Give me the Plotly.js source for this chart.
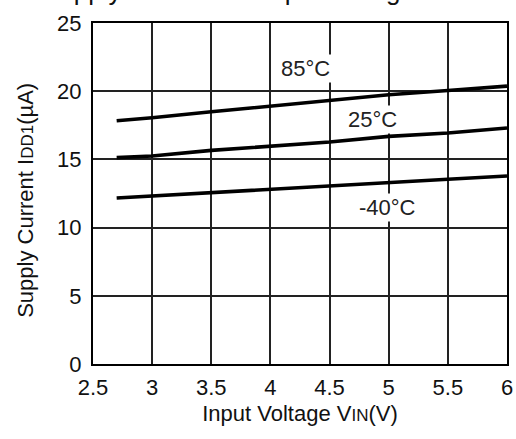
<!DOCTYPE html>
<html>
<head>
<meta charset="utf-8">
<script src="https://cdn.plot.ly/plotly-3.0.1.min.js"></script>
<style>html,body{margin:0;padding:0;background:#fff;}#chart{width:516px;height:439px;}</style>
</head>
<body>
<div id="chart"></div>
<script>
const vin = [2.7, 3.0, 3.5, 4.0, 4.5, 5.0, 5.5, 6.0];
const idd85 = [17.83, 18.05, 18.49, 18.9, 19.32, 19.74, 20.05, 20.37];
const idd25 = [15.13, 15.25, 15.66, 15.98, 16.27, 16.69, 16.93, 17.3];
const iddM40 = [12.17, 12.32, 12.59, 12.83, 13.1, 13.34, 13.54, 13.78];
const seriesNames = ["85°C", "25°C", "-40°C"];
const labelX = [4.3, 4.86, 4.99];
const labelY = [21.7, 17.9, 11.5];
const xTicks = [2.5, 3, 3.5, 4, 4.5, 5, 5.5, 6];
const yTicks = [0, 5, 10, 15, 20, 25];
const chartTitle = "Supply Current vs. Input Voltage";
const xTitle = 'Input Voltage V<span style="font-size:17px">IN</span>(V)';
const yTitle = 'Supply Current I<span style="font-size:17px">DD1</span>(µA)';

const font = "Liberation Sans, Arial, Helvetica, sans-serif";
const seriesY = [idd85, idd25, iddM40];
const traces = seriesY.map((ys, i) => ({
  x: vin, y: ys, type: 'scatter', mode: 'lines', name: seriesNames[i],
  line: {color: '#000', width: 3.6}, hoverinfo: 'skip'
}));
const annotations = seriesNames.map((t, i) => ({
  x: labelX[i], y: labelY[i], xref: 'x', yref: 'y', text: t, showarrow: false,
  font: {family: font, size: 22, color: '#222'}, bgcolor: '#fff',
  xanchor: 'center', yanchor: 'middle'
}));
annotations.push({
  x: -0.128, y: 1.045, xref: 'paper', yref: 'paper', text: chartTitle, showarrow: false,
  xanchor: 'left', yanchor: 'bottom', font: {family: font, size: 26, color: '#111'}
});
annotations.push({
  x: -0.163, y: 0.48, xref: 'paper', yref: 'paper', text: yTitle, showarrow: false,
  textangle: -90, xanchor: 'center', yanchor: 'middle',
  font: {family: font, size: 22, color: '#111'}
});
const axisCommon = {
  showgrid: true, gridcolor: '#222', gridwidth: 2,
  showline: true, linecolor: '#000', linewidth: 2, mirror: true,
  zeroline: false, ticks: 'outside', ticklen: 3, tickcolor: 'rgba(0,0,0,0)',
  tickfont: {family: font, size: 22, color: '#111'}
};
const layout = {
  width: 516, height: 439,
  margin: {l: 93, r: 9, t: 23, b: 75},
  paper_bgcolor: '#fff', plot_bgcolor: '#fff',
  showlegend: false,
  xaxis: Object.assign({}, axisCommon, {
    range: [2.5, 6], tickvals: xTicks, ticktext: xTicks.map(String),
    title: {text: xTitle, font: {family: font, size: 22, color: '#111'}, standoff: 6}
  }),
  yaxis: Object.assign({}, axisCommon, {
    range: [0, 25], tickvals: yTicks, ticktext: yTicks.map(String), ticklen: 5
  }),
  annotations: annotations
};
Plotly.newPlot('chart', traces, layout, {staticPlot: true, displayModeBar: false});
</script>
</body>
</html>
